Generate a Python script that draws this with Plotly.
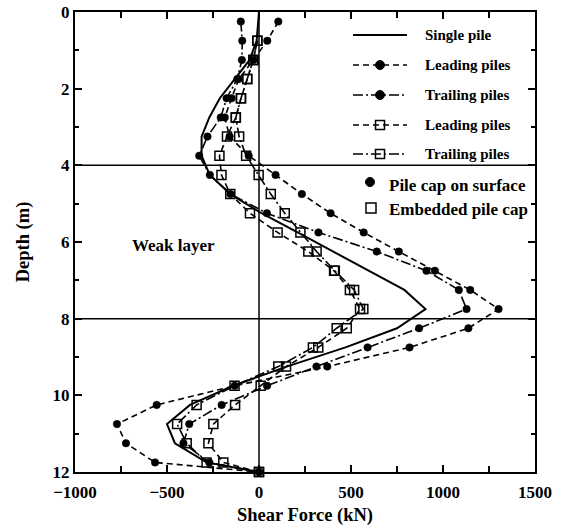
import plotly.graph_objects as go

# ---- data -------------------------------------------------------------
# depth (m) of the single-pile profile
depth_single = [0, 0.25, 0.75, 1.25, 1.75, 2.25, 2.75, 3.25, 3.75, 4.25, 4.75, 5.25,
                5.75, 6.25, 6.75, 7.25, 7.75, 8.25, 8.75, 9.25, 9.75, 10.25, 10.75,
                11.25, 11.75, 12]
shear_single = [0, -3, -13, -51, -132, -213, -270, -312, -312, -268, -155, 14,
                210, 405, 600, 790, 905, 750, 470, 150, -140, -375, -500,
                -457, -285, 0]

# pile cap on surface (depth 0.25 ... 11.75, then toe at 12 m)
depth_surface = [0.25, 0.75, 1.25, 1.75, 2.25, 2.75, 3.25, 3.75, 4.25, 4.75, 5.25,
                 5.75, 6.25, 6.75, 7.25, 7.75, 8.25, 8.75, 9.25, 9.75, 10.25,
                 10.75, 11.25, 11.75, 12]
shear_surface_leading = [105, 45, -30, -110, -149, -186, -160, -56, 90, 233, 389,
                         569, 760, 956, 1148, 1302, 1138, 818, 371, -132, -556,
                         -772, -723, -565, 0]
shear_surface_trailing = [-99, -91, -93, -118, -176, -208, -280, -325, -267, -155, 43,
                          323, 640, 910, 1086, 1128, 870, 590, 312, 44, -203,
                          -379, -411, -270, 0]

# embedded pile cap (depth 0.75 ... 11.75, then toe at 12 m)
depth_embedded = [0.75, 1.25, 1.75, 2.25, 2.75, 3.25, 3.75, 4.25, 4.75, 5.25,
                  5.75, 6.25, 6.75, 7.25, 7.75, 8.25, 8.75, 9.25, 9.75, 10.25,
                  10.75, 11.25, 11.75, 12]
shear_embedded_leading = [-9, -31, -64, -98, -126, -174, -215, -204, -156, -49,
                          101, 268, 408, 494, 549, 477, 322, 147, 9, -130,
                          -248, -275, -194, 0]
shear_embedded_trailing = [-9, -31, -64, -98, -126, -108, -70, -2, 64, 140,
                           225, 313, 412, 517, 567, 422, 293, 105, -133, -339,
                           -445, -393, -285, 0]

layer_bounds = [4, 8]
x_ticks = [-1000, -500, 0, 500, 1000, 1500]
y_ticks = [0, 2, 4, 6, 8, 10, 12]

# ---- styling ----------------------------------------------------------
FONT = "Liberation Serif"
DASH = "6px,4px"
DASHDOT = "10px,3px,2px,3px"
W, H = 565, 528
ML, MR, MT, MB = 75, 30, 12, 56

fig = go.Figure()

fig.add_trace(go.Scatter(x=shear_single, y=depth_single, mode="lines",
                         line=dict(color="black", width=2), showlegend=False,
                         cliponaxis=False))

series = [
    (shear_surface_leading, depth_surface, DASH, "circle"),
    (shear_surface_trailing, depth_surface, DASHDOT, "circle"),
    (shear_embedded_leading, depth_embedded, DASH, "square-open"),
    (shear_embedded_trailing, depth_embedded, DASHDOT, "square-open"),
]
for xs, ys, dash, sym in series:
    is_sq = sym.startswith("square")
    fig.add_trace(go.Scatter(
        x=xs, y=ys, mode="lines+markers",
        line=dict(color="black", width=1.6, dash=dash),
        marker=dict(symbol=sym, size=9 if is_sq else 7.5, color="black",
                    line=dict(color="black", width=1.5 if is_sq else 0.5)),
        showlegend=False, cliponaxis=False))

shapes = []
for d in layer_bounds:
    shapes.append(dict(type="line", xref="paper", x0=0, x1=1, yref="y", y0=d, y1=d,
                       line=dict(color="black", width=1.5), layer="below"))
shapes.append(dict(type="line", xref="x", x0=0, x1=0, yref="paper", y0=0, y1=1,
                   line=dict(color="black", width=1.5), layer="below"))


def px_x(p):
    return (p - ML) / (W - ML - MR)


def px_y(p):
    return (H - MB - p) / (H - MT - MB)


annotations = []

# key: line samples with markers
key_rows = [
    ("Single pile", "solid", None, 35),
    ("Leading piles", DASH, "circle", 65),
    ("Trailing piles", DASHDOT, "circle", 95),
    ("Leading piles", DASH, "square", 125),
    ("Trailing piles", DASHDOT, "square", 154),
]
for label, dash, mk, ypix in key_rows:
    yy = px_y(ypix)
    shapes.append(dict(type="line", xref="paper", yref="paper",
                       x0=px_x(353), x1=px_x(407), y0=yy, y1=yy,
                       line=dict(color="black", width=2 if dash == "solid" else 1.6,
                                 dash=dash)))
    if mk == "circle":
        shapes.append(dict(type="circle", xref="paper", yref="paper",
                           xsizemode="pixel", ysizemode="pixel",
                           xanchor=px_x(380), yanchor=yy,
                           x0=-4.5, x1=4.5, y0=-4.5, y1=4.5,
                           fillcolor="black", line=dict(color="black", width=1)))
    elif mk == "square":
        shapes.append(dict(type="rect", xref="paper", yref="paper",
                           xsizemode="pixel", ysizemode="pixel",
                           xanchor=px_x(380), yanchor=yy,
                           x0=-4.5, x1=4.5, y0=-4.5, y1=4.5,
                           fillcolor="rgba(0,0,0,0)", line=dict(color="black", width=1.5)))
    annotations.append(dict(xref="paper", yref="paper", x=px_x(423), y=yy,
                            xanchor="left", yanchor="middle", showarrow=False,
                            text=label, font=dict(family=FONT, size=15, color="black",
                                                  weight="bold")))

# key: marker type
shapes.append(dict(type="circle", xref="paper", yref="paper",
                   xsizemode="pixel", ysizemode="pixel",
                   xanchor=px_x(370), yanchor=px_y(182),
                   x0=-4.5, x1=4.5, y0=-4.5, y1=4.5,
                   fillcolor="black", line=dict(color="black", width=1)))
shapes.append(dict(type="rect", xref="paper", yref="paper",
                   xsizemode="pixel", ysizemode="pixel",
                   xanchor=px_x(371), yanchor=px_y(208),
                   x0=-5, x1=5, y0=-5, y1=5,
                   fillcolor="rgba(0,0,0,0)", line=dict(color="black", width=1.5)))
for label, ypix in [("Pile cap on surface", 185), ("Embedded pile cap", 209)]:
    annotations.append(dict(xref="paper", yref="paper", x=px_x(387), y=px_y(ypix),
                            xanchor="left", yanchor="middle", showarrow=False,
                            text=label, font=dict(family=FONT, size=17, color="black",
                                                  weight="bold")))

annotations.append(dict(x=-462, y=6.08, xref="x", yref="y", showarrow=False,
                        text="Weak layer",
                        font=dict(family=FONT, size=17, color="black", weight="bold")))

axis_common = dict(showgrid=False, zeroline=False, showline=True, linecolor="black",
                   linewidth=2, mirror="ticks", ticks="inside", tickcolor="black",
                   tickwidth=2, automargin=False,
                   tickfont=dict(family=FONT, size=17, color="black", weight="bold"))

fig.update_layout(
    width=W, height=H,
    margin=dict(l=ML, r=MR, t=MT, b=MB),
    paper_bgcolor="white", plot_bgcolor="white",
    shapes=shapes, annotations=annotations,
    xaxis=dict(range=[-1000, 1500], tickvals=x_ticks, ticklen=7, ticklabelstandoff=4,
               minor=dict(dtick=250, ticks="inside", ticklen=6, tickwidth=2,
                          tickcolor="black"),
               title=dict(text="Shear Force (kN)", standoff=7,
                          font=dict(family=FONT, size=18.5, color="black", weight="bold")),
               **axis_common),
    yaxis=dict(range=[12, 0], tickvals=y_ticks, ticklen=7,
               minor=dict(dtick=1, ticks="inside", ticklen=4, tickwidth=2,
                          tickcolor="black"),
               title=dict(text="Depth (m)", standoff=18,
                          font=dict(family=FONT, size=18.5, color="black", weight="bold")),
               **axis_common),
)

fig.write_html("out.html")
